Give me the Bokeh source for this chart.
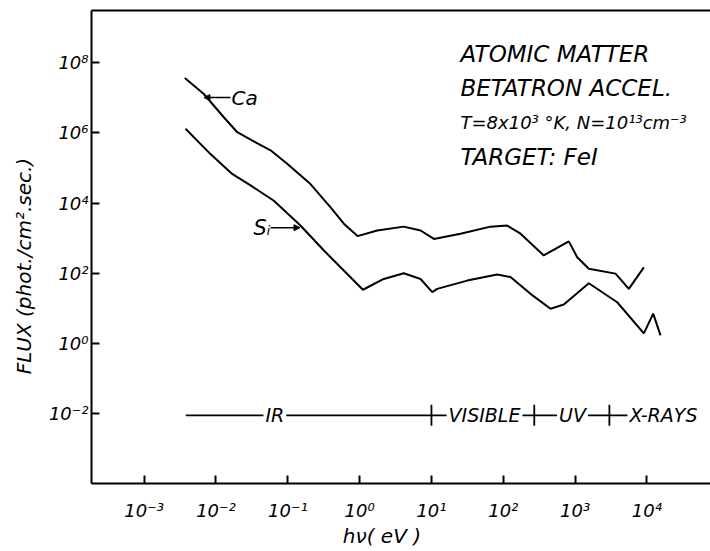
from bokeh.plotting import figure
from bokeh.models import LogAxis, FixedTicker, Arrow, NormalHead, Label
from bokeh.embed import file_html
from bokeh.resources import INLINE

# ---- data (photon energy in eV, flux in phot/cm^2/sec) ----
ca_energy = [3.68e-3, 6.78e-3, 1.285e-2, 1.98e-2, 3.56e-2, 5.75e-2, 9.8e-2, 0.207, 0.394, 0.603, 0.935,
             1.76, 4.12, 7.05, 10.8, 25.4, 66.4, 113.5, 174, 366, 817, 1069, 1552, 3656, 5598, 9057]
ca_flux = [3.7e7, 1.29e7, 2.8e6, 1.05e6, 5.4e5, 3.2e5, 1.32e5, 3.5e4, 7.6e3, 2.6e3, 1.15e3,
           1.66e3, 2.14e3, 1.66e3, 955, 1.35e3, 2.14e3, 2.29e3, 1.35e3, 324, 813, 288, 135, 98, 36, 148]

si_energy = [3.77e-3, 8.39e-3, 1.68e-2, 3.03e-2, 6.40e-2, 0.150, 0.318, 0.789, 1.11, 2.17, 4.12, 7.05,
             10.26, 12.0, 31.5, 82.4, 126, 239, 455, 697, 1552, 3855, 9057, 12220, 15450]
si_flux = [1.32e6, 2.5e5, 6.8e4, 3.2e4, 1.17e4, 2.3e3, 447, 69, 34, 69, 100, 69,
           29, 36, 62, 93, 78, 26, 9.8, 12.9, 52, 15, 1.95, 7.1, 1.7]

band_names = ["IR", "VISIBLE", "UV", "X-RAYS"]
band_centers = [0.066, 54.8, 920, 17000]
band_boundaries = [10, 270, 3000]
band_start, band_end = 3.8e-3, 5.0e4
band_level = 9e-3

x_ticks = [1e-3, 1e-2, 1e-1, 1, 10, 100, 1e3, 1e4]
x_tick_labels = ["10⁻³", "10⁻²", "10⁻¹", "10⁰", "10¹", "10²", "10³", "10⁴"]
y_ticks = [1e-2, 1, 1e2, 1e4, 1e6, 1e8]
y_tick_labels = ["10⁻²", "10⁰", "10²", "10⁴", "10⁶", "10⁸"]

info_lines = ["ATOMIC MATTER", "BETATRON ACCEL.", "T=8x10³ °K, N=10¹³cm⁻³", "TARGET: FeI"]
info_y = [1.8e8, 1.95e7, 2.0e6, 2.0e5]
info_size = ["23px", "23px", "18px", "23px"]

FONT = "DejaVu Sans"
PAD = "\u00a0" * 6  # non-breaking padding to nudge the centred axis titles

p = figure(width=710, height=551, x_axis_type="log", y_axis_type="log",
           x_range=(10 ** -3.733, 10 ** 4.885), y_range=(10 ** -3.99, 10 ** 9.49),
           output_backend="svg", toolbar_location=None,
           min_border_left=91, min_border_right=0, min_border_top=10, min_border_bottom=68)
p.outline_line_color = None
p.grid.visible = False
p.background_fill_color = "white"
p.border_fill_color = "white"

for ax, ticks, labels in ((p.xaxis[0], x_ticks, x_tick_labels), (p.yaxis[0], y_ticks, y_tick_labels)):
    ax.ticker = FixedTicker(ticks=ticks)
    ax.major_label_overrides = dict(zip(ticks, labels))
    ax.axis_line_width = 2
    ax.axis_line_color = "black"
    ax.major_tick_in = 8
    ax.major_tick_out = 0
    ax.major_tick_line_width = 2
    ax.minor_tick_line_color = None
    ax.major_label_text_font = FONT
    ax.major_label_text_font_style = "italic"
    ax.major_label_text_font_size = "18px"
    ax.major_label_text_color = "black"
    ax.axis_label_text_font = FONT
    ax.axis_label_text_font_style = "italic"
    ax.axis_label_text_font_size = "20px"
    ax.axis_label_text_color = "black"

p.xaxis.major_label_standoff = 16
p.yaxis.major_label_standoff = 3
p.xaxis.axis_label = "hν( eV )" + PAD
p.xaxis.axis_label_standoff = 0
p.yaxis.axis_label = "FLUX (phot./cm².sec.)" + PAD
p.yaxis.axis_label_standoff = 10

top = LogAxis(ticker=FixedTicker(ticks=[]), axis_line_width=2, axis_line_color="black",
              major_tick_line_color=None, minor_tick_line_color=None,
              major_label_text_font_size="0px")
p.add_layout(top, "above")

p.line(ca_energy, ca_flux, line_color="black", line_width=2)
p.line(si_energy, si_flux, line_color="black", line_width=2)

# spectral band bar
p.line([band_start, band_end], [band_level, band_level], line_color="black", line_width=1.8)
p.segment(x0=band_boundaries, x1=band_boundaries,
          y0=[band_level / 2.0] * 3, y1=[band_level * 2.0] * 3, line_color="black", line_width=1.8)
for name, xc in zip(band_names, band_centers):
    p.add_layout(Label(x=xc, y=band_level, text=name, text_align="center", text_baseline="middle",
                       text_font=FONT, text_font_style="italic", text_font_size="19px",
                       text_color="black", background_fill_color="white", padding=2))

# curve labels
p.add_layout(Arrow(end=NormalHead(size=6, fill_color="black", line_color="black"),
                   x_start=0.0159, y_start=1.02e7, x_end=0.0068, y_end=1.02e7, line_width=1.5))
p.add_layout(Label(x=0.0165, y=1.02e7, text="Ca", text_baseline="middle", text_font=FONT,
                   text_font_style="italic", text_font_size="20px", text_color="black"))
p.add_layout(Arrow(end=NormalHead(size=6, fill_color="black", line_color="black"),
                   x_start=0.0575, y_start=2.0e3, x_end=0.148, y_end=2.0e3, line_width=1.5))
p.add_layout(Label(x=0.0575, y=2.0e3, text="Sᵢ", text_align="right", text_baseline="middle",
                   text_font=FONT, text_font_style="italic", text_font_size="21px", text_color="black"))

# info block
for txt, yy, fs in zip(info_lines, info_y, info_size):
    p.add_layout(Label(x=25.4, y=yy, text=txt, text_baseline="alphabetic", text_font=FONT,
                       text_font_style="italic", text_font_size=fs, text_color="black"))

open("out.html", "w").write(file_html(p, INLINE))
